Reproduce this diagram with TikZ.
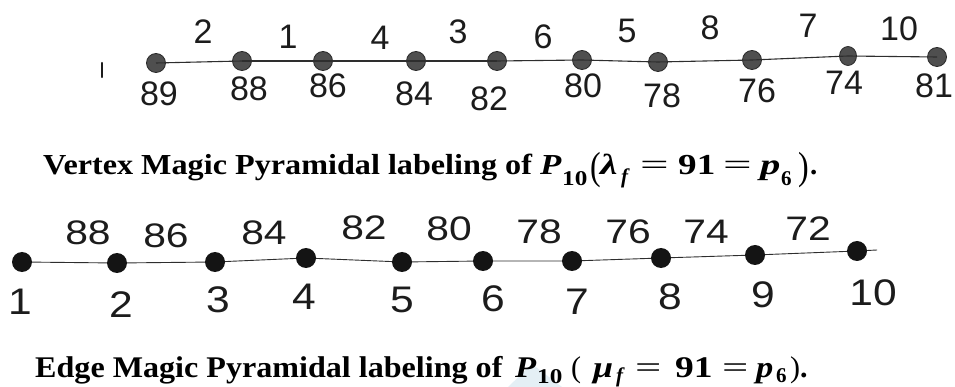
\documentclass[tikz,border=0pt]{standalone}
\usepackage{fontspec}
\setmainfont{Liberation Serif}
\newfontfamily\arialf{Liberation Sans}
\usepackage{graphicx}
\usetikzlibrary{shapes.geometric}
\definecolor{nodegray}{HTML}{4F4F4F}
\definecolor{nodeedge}{HTML}{2A2A2A}
\definecolor{lineclr}{HTML}{2E2E2E}
\definecolor{txtclr}{HTML}{1C1C1C}
\definecolor{wmark}{HTML}{E4EFF5}
\newcommand\bivar[1]{{\bfseries\itshape #1}}
\newcommand\mb[2]{\makebox[#1][l]{#2}}
\newcommand\subx[3]{\raisebox{-#1}{\fontsize{#2}{#2}\selectfont\bfseries #3}}
\newcommand\meqx[1]{{\mdseries\scalebox{#1}[1]{=}}}
\tikzset{
  topv/.style={circle,draw=nodeedge,fill=nodegray,line width=0.8pt,minimum size=19pt,inner sep=0pt},
  botv/.style={circle,fill=black!92,minimum size=20pt,inner sep=0pt},
  edg/.style={draw=lineclr,line width=1.1pt},
  toplab/.style={font=\arialf\fontsize{34}{34}\selectfont,text=txtclr,inner sep=0pt},
  bupl/.style={font=\arialf\fontsize{34}{34}\selectfont,text=txtclr,inner sep=0pt,xscale=1.2},
  blol/.style={font=\arialf\fontsize{37}{37}\selectfont,text=txtclr,inner sep=0pt,xscale=1.15},
  capt/.style={inner sep=0pt,anchor=base west}
}
\begin{document}
\begin{tikzpicture}[x=1pt,y=-1pt]
\useasboundingbox (0,0) rectangle (955,387);
% watermark
\fill[wmark] (508,387) -- (532,364) -- (562,387) -- cycle;
% stray mark
\draw[txtclr,line width=2.4pt,line cap=round] (102,63) -- (102,77);
% top graph vertices
\node[topv] (t1) at (156,63) {};
\node[topv] (t2) at (242,61) {};
\node[topv] (t3) at (323,61) {};
\node[topv] (t4) at (416,61) {};
\node[topv] (t5) at (497,61) {};
\node[topv] (t6) at (582,60) {};
\node[topv] (t7) at (658,62) {};
\node[topv] (t8) at (752,60) {};
\node[topv,ellipse,minimum width=17pt,minimum height=19pt] (t9) at (848,56) {};
\node[topv] (t10) at (937,57) {};
\foreach \a/\b in {t1/t2,t2/t3,t3/t4,t4/t5,t5/t6,t6/t7,t7/t8,t8/t9,t9/t10}
  \draw[edg] (\a.center) -- (\b.center);
% top edge labels
\node[toplab] (te1) at (203,32) {2};
\node[toplab] (te2) at (288,37) {1};
\node[toplab] (te3) at (380,38) {4};
\node[toplab] (te4) at (458,32) {3};
\node[toplab] (te5) at (543,37) {6};
\node[toplab] (te6) at (627,31) {5};
\node[toplab] (te7) at (710,28) {8};
\node[toplab] (te8) at (808,26) {7};
\node[toplab] (te9) at (899,29) {10};
% top vertex labels
\node[toplab] (tv1) at (159,94) {89};
\node[toplab] (tv2) at (249,89) {88};
\node[toplab] (tv3) at (328,86) {86};
\node[toplab] (tv4) at (414,94) {84};
\node[toplab] (tv5) at (489,99) {82};
\node[toplab] (tv6) at (583,86) {80};
\node[toplab] (tv7) at (662,96) {78};
\node[toplab] (tv8) at (757,91) {76};
\node[toplab] (tv9) at (844,83) {74};
\node[toplab] (tv10) at (934,86) {81};
% caption 1
\node[capt,font=\fontsize{29}{30}\selectfont\bfseries,xscale=1.11] (cap1) at (43,175) {Vertex Magic Pyramidal labeling of};
\node[capt,font=\fontsize{29}{30}\selectfont\bfseries] (cap1m) at (540,175) {%
\mb{22pt}{\scalebox{1.2}[1]{\bivar{P}}}%
\mb{28pt}{\subx{11pt}{21}{\scalebox{1.2}[1]{10}}}%
\mb{10pt}{\raisebox{-5pt}{\mdseries\scalebox{1.1}[1.35]{(}}}%
\mb{21pt}{\scalebox{1.35}[1]{\bivar{λ}}}%
\mb{19pt}{\subx{9pt}{21}{\itshape f}}%
\mb{38pt}{\meqx{1.75}}%
\mb{45pt}{\scalebox{1.28}[1]{91}}%
\mb{37pt}{\meqx{1.75}}%
\mb{21pt}{\scalebox{1.4}[1]{\bivar{p}}}%
\mb{17pt}{\subx{11pt}{21}{6}}%
\mb{12pt}{\raisebox{-5pt}{\mdseries\scalebox{1.1}[1.35]{)}}}%
.};
% bottom graph
\coordinate (bend) at (877,250);
\node[botv] (b1) at (22,262) {};
\node[botv] (b2) at (117,263) {};
\node[botv] (b3) at (215,262) {};
\node[botv] (b4) at (306,258) {};
\node[botv] (b5) at (402,262) {};
\node[botv] (b6) at (483,261) {};
\node[botv] (b7) at (572,261) {};
\node[botv] (b8) at (661,258) {};
\node[botv] (b9) at (755,255) {};
\node[botv] (b10) at (857,251) {};
\draw[edg,line width=0.9pt] (b1) -- (b2) -- (b3) -- (b4) -- (b5) -- (b6) -- (b7) -- (b8) -- (b9) -- (b10) -- (bend);
% bottom edge labels
\node[bupl] (be1) at (88,233) {88};
\node[bupl] (be2) at (166,236) {86};
\node[bupl] (be3) at (264,233) {84};
\node[bupl] (be4) at (364,228) {82};
\node[bupl] (be5) at (449,229) {80};
\node[bupl] (be6) at (539,232) {78};
\node[bupl] (be7) at (628,232) {76};
\node[bupl] (be8) at (706,232) {74};
\node[bupl] (be9) at (808,229) {72};
% bottom vertex labels
\node[blol] (bv1) at (20,302) {1};
\node[blol] (bv2) at (121,305) {2};
\node[blol] (bv3) at (218,300) {3};
\node[blol] (bv4) at (304,297) {4};
\node[blol] (bv5) at (402,300) {5};
\node[blol] (bv6) at (493,299) {6};
\node[blol] (bv7) at (577,302) {7};
\node[blol] (bv8) at (670,297) {8};
\node[blol] (bv9) at (763,295) {9};
\node[blol] (bv10) at (873,293) {10};
% caption 2
\node[capt,font=\fontsize{30}{31}\selectfont\bfseries,xscale=1.07] (cap2) at (35,377) {Edge Magic Pyramidal labeling of};
\node[capt,font=\fontsize{30}{31}\selectfont\bfseries] (cap2m) at (515,377) {%
\mb{22pt}{\scalebox{1.15}[1]{\bivar{P}}}%
\mb{34pt}{\subx{6pt}{21}{\scalebox{1.2}[1]{10}}}%
\mb{22pt}{\mdseries(}%
\mb{23pt}{\scalebox{1.2}[1]{\bivar{μ}}}%
\mb{19pt}{\subx{5pt}{21}{\itshape f}}%
\mb{40pt}{\meqx{1.55}}%
\mb{47pt}{\scalebox{1.25}[1]{91}}%
\mb{34pt}{\meqx{1.55}}%
\mb{20pt}{\scalebox{1.15}[1]{\bivar{p}}}%
\mb{14pt}{\subx{5pt}{21}{6}}%
\mb{10pt}{\mdseries)}%
.};
\end{tikzpicture}
\end{document}
